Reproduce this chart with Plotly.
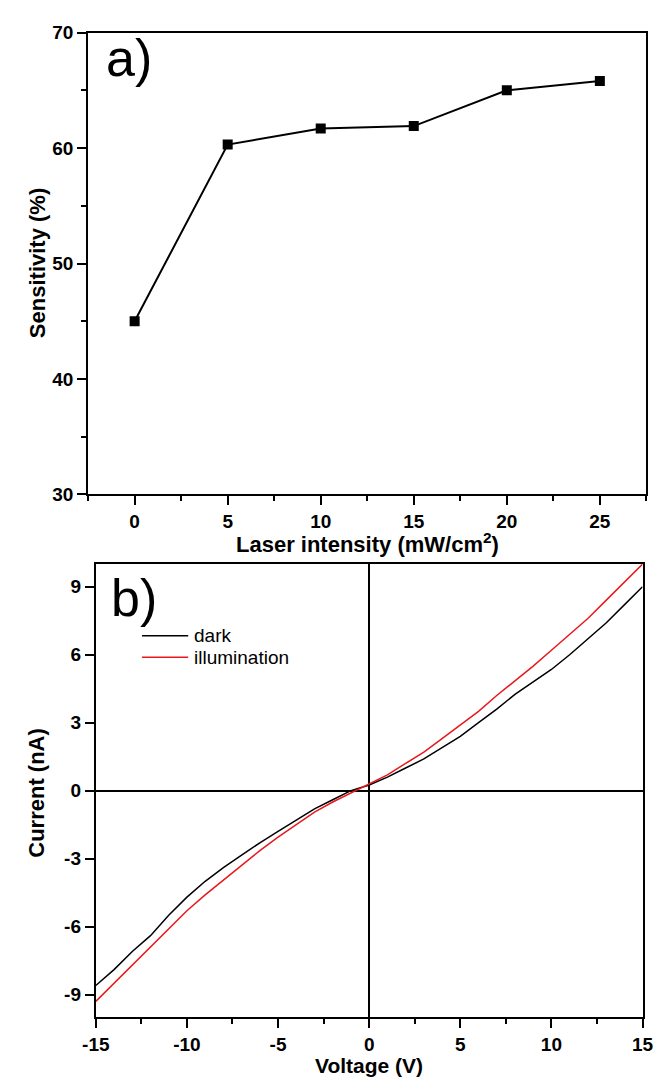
import plotly.graph_objects as go

# Panel a data
laser_intensity = [0, 5, 10, 15, 20, 25]
sensitivity = [45.0, 60.3, 61.7, 61.9, 65.0, 65.8]

# Panel b data
voltage = [-15, -14, -13, -12, -11, -10, -9, -8, -7, -6, -5, -4, -3, -2, -1, 0,
           1, 2, 3, 4, 5, 6, 7, 8, 9, 10, 11, 12, 13, 14, 15]
current_dark = [-8.6, -7.9, -7.1, -6.4, -5.5, -4.7, -4.0, -3.4, -2.85, -2.3, -1.8, -1.3, -0.8, -0.4, 0.0, 0.25,
                0.6, 1.0, 1.4, 1.9, 2.4, 3.0, 3.6, 4.25, 4.8, 5.35, 6.0, 6.7, 7.4, 8.2, 9.0]
current_illum = [-9.3, -8.5, -7.7, -6.9, -6.1, -5.3, -4.6, -3.95, -3.3, -2.65, -2.05, -1.5, -0.95, -0.5, -0.1, 0.3,
                 0.7, 1.2, 1.7, 2.3, 2.9, 3.5, 4.2, 4.85, 5.5, 6.2, 6.9, 7.6, 8.4, 9.2, 10.0]
series_names = ["dark", "illumination"]
series_colors = ["black", "#e8191c"]

x_ticks_a = [0, 5, 10, 15, 20, 25]
y_ticks_a = [30, 40, 50, 60, 70]
x_ticks_b = [-15, -10, -5, 0, 5, 10, 15]
y_ticks_b = [-9, -6, -3, 0, 3, 6, 9]

W, H = 667, 1090
FONT = "Liberation Sans, Arial, sans-serif"


def labels(vals):
    return [str(v) for v in vals]  # plain hyphen minus, as in the reference


fig = go.Figure()

fig.add_trace(go.Scatter(
    x=laser_intensity, y=sensitivity, mode="lines+markers",
    line=dict(color="black", width=2),
    marker=dict(symbol="square", size=10, color="black"),
    showlegend=False, xaxis="x", yaxis="y"))

for name, ys, col in zip(series_names, [current_dark, current_illum], series_colors):
    fig.add_trace(go.Scatter(
        x=voltage, y=ys, mode="lines", name=name, showlegend=False,
        line=dict(color=col, width=1.5), xaxis="x2", yaxis="y2"))

axis_common = dict(
    showline=True, linecolor="black", linewidth=2, mirror=True,
    ticks="outside", ticklen=9, tickwidth=2, tickcolor="black",
    showgrid=False, zeroline=False,
    tickfont=dict(family=FONT, size=19, color="black", weight="bold"),
)
minor = dict(ticks="outside", ticklen=5, tickwidth=1.5, tickcolor="black")

fig.update_layout(
    width=W, height=H,
    margin=dict(l=0, r=0, t=0, b=0),
    plot_bgcolor="white", paper_bgcolor="white",
    xaxis=dict(axis_common, domain=[77 / W, 657 / W], anchor="y",
               range=[-2.5, 27.5], tickvals=x_ticks_a, ticktext=labels(x_ticks_a),
               minor=dict(minor, dtick=2.5, tick0=0)),
    yaxis=dict(axis_common, domain=[1 - 494 / H, 1 - 23 / H], anchor="x",
               range=[30, 70], tickvals=y_ticks_a, ticktext=labels(y_ticks_a),
               minor=dict(minor, dtick=5, tick0=0)),
    xaxis2=dict(axis_common, domain=[85 / W, 653 / W], anchor="y2",
                range=[-15, 15], tickvals=x_ticks_b, ticktext=labels(x_ticks_b),
                zeroline=True, zerolinecolor="black", zerolinewidth=1.5,
                minor=dict(minor, dtick=2.5, tick0=0)),
    yaxis2=dict(axis_common, domain=[1 - 1027 / H, 1 - 565 / H], anchor="x2",
                range=[-10, 10], tickvals=y_ticks_b, ticktext=labels(y_ticks_b),
                zeroline=True, zerolinecolor="black", zerolinewidth=1.5),
    showlegend=False,
)

# Hand-drawn legend for panel b (sample lines + labels)
leg_y = [638, 660]
for name, col, yy in zip(series_names, series_colors, leg_y):
    fig.add_shape(type="line", xref="paper", yref="paper",
                  x0=133 / W, x1=181 / W, y0=1 - yy / H, y1=1 - yy / H,
                  line=dict(color=col, width=1.5))
    fig.add_annotation(text=name, x=185 / W, y=1 - yy / H, xref="paper", yref="paper",
                       xanchor="left", yanchor="middle", showarrow=False,
                       font=dict(family=FONT, size=19, color="black"))

ann = [
    dict(text="a)", x=93 / W, y=1 - 49 / H, xanchor="left", yanchor="middle",
         font=dict(family=FONT, size=52, color="black")),
    dict(text="b)", x=99 / W, y=1 - 600 / H, xanchor="left", yanchor="middle",
         font=dict(family=FONT, size=52, color="black")),
    dict(text="<b>Sensitivity (%)</b>", x=24 / W, y=1 - 258 / H, textangle=-90,
         xanchor="center", yanchor="middle",
         font=dict(family=FONT, size=22, color="black")),
    dict(text="<b>Laser intensity (mW/cm<sup>2</sup>)</b>", x=367 / W, y=1 - 543 / H,
         xanchor="center", yanchor="middle",
         font=dict(family=FONT, size=22, color="black")),
    dict(text="<b>Current (nA)</b>", x=24 / W, y=1 - 798 / H, textangle=-90,
         xanchor="center", yanchor="middle",
         font=dict(family=FONT, size=22, color="black")),
    dict(text="<b>Voltage (V)</b>", x=369 / W, y=0, xanchor="center", yanchor="bottom",
         font=dict(family=FONT, size=21, color="black")),
]
for a in ann:
    a.update(xref="paper", yref="paper", showarrow=False)
    fig.add_annotation(**a)

fig.write_html("out.html")
